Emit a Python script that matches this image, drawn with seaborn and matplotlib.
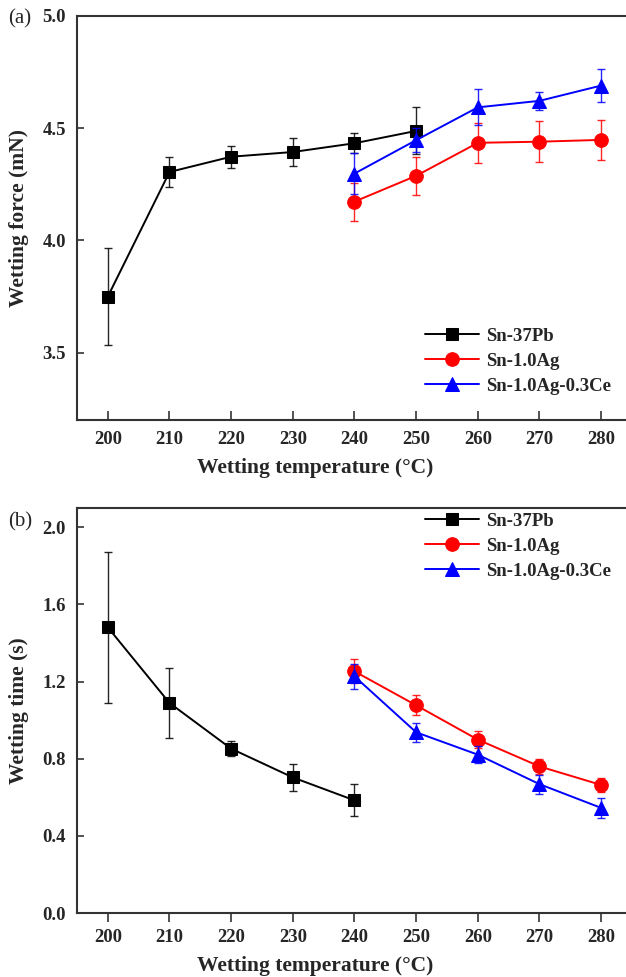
import matplotlib
matplotlib.use("Agg")
import matplotlib.pyplot as plt
import seaborn as sns
import numpy as np
import pandas as pd

# Wetting balance results for three solder alloys
alloys = ["Sn-37Pb", "Sn-1.0Ag", "Sn-1.0Ag-0.3Ce"]
colors = ["#000000", "#ff0000", "#0000ff"]
markers = ["s", "o", "^"]

temp_pb = [200, 210, 220, 230, 240, 250]
temp_ag = [240, 250, 260, 270, 280]
temp_ce = [240, 250, 260, 270, 280]

# (a) wetting force, mN
force_pb = [3.75, 4.305, 4.373, 4.394, 4.433, 4.488]
force_pb_err = [0.215, 0.065, 0.05, 0.063, 0.045, 0.105]
force_ag = [4.173, 4.288, 4.435, 4.440, 4.448]
force_ag_err = [0.085, 0.085, 0.09, 0.09, 0.09]
force_ce = [4.298, 4.447, 4.593, 4.622, 4.690]
force_ce_err = [0.09, 0.055, 0.08, 0.04, 0.075]

# (b) wetting time, s
time_pb = [1.481, 1.089, 0.852, 0.703, 0.584]
time_pb_err = [0.39, 0.18, 0.04, 0.07, 0.083]
time_ag = [1.253, 1.077, 0.899, 0.760, 0.664]
time_ag_err = [0.062, 0.052, 0.045, 0.04, 0.036]
time_ce = [1.227, 0.937, 0.821, 0.668, 0.545]
time_ce_err = [0.065, 0.05, 0.043, 0.05, 0.05]

x_ticks = [200, 210, 220, 230, 240, 250, 260, 270, 280]
force_ticks = [3.5, 4.0, 4.5, 5.0]
time_ticks = [0.0, 0.4, 0.8, 1.2, 1.6, 2.0]

sns.set_style("ticks")
plt.rcParams["font.family"] = ["Liberation Serif", "DejaVu Serif"]
plt.rcParams["font.weight"] = "bold"
plt.rcParams["axes.labelweight"] = "bold"

fig = plt.figure(figsize=(6.26, 9.77), dpi=100)
W, H = 626.0, 977.0
left_px, right_px = 77.0, 632.0
ax_a = fig.add_axes([left_px / W, 1 - 420 / H, (right_px - left_px) / W, (420 - 16) / H])
ax_b = fig.add_axes([left_px / W, 1 - 913 / H, (right_px - left_px) / W, (913 - 508) / H])

series_a = [(temp_pb, force_pb, force_pb_err), (temp_ag, force_ag, force_ag_err),
            (temp_ce, force_ce, force_ce_err)]
series_b = [(temp_pb[:5], time_pb, time_pb_err), (temp_ag, time_ag, time_ag_err),
            (temp_ce, time_ce, time_ce_err)]

msizes = [8.8, 9.8, 10.5]


def draw_panel(ax, series, ylabel, ylim, yticks, yfmt, xdir, xpad, xlab_y):
    for i, (name, col, mk) in enumerate(zip(alloys, colors, markers)):
        xs, ys, es = series[i]
        df = pd.DataFrame({"temp": xs, "val": ys})
        ax.errorbar(xs, ys, yerr=es, fmt="none", ecolor=col, elinewidth=1.0,
                    capsize=3.2, capthick=1.0, alpha=0.85, zorder=2 + i)
        sns.lineplot(data=df, x="temp", y="val", ax=ax, color=col, marker=mk,
                     markersize=msizes[i], markeredgecolor=col, linewidth=1.4,
                     label=name, zorder=3 + i)
    ax.set_xlim(195, 285)
    ax.set_ylim(*ylim)
    ax.set_xticks(x_ticks)
    ax.set_yticks(yticks)
    ax.set_yticklabels([yfmt.format(v) for v in yticks])
    ax.tick_params(axis="both", length=5, width=1.2, labelsize=13.5, color="#333333")
    ax.tick_params(axis="x", direction=xdir, pad=xpad, length=6.5)
    ax.tick_params(axis="y", direction="in", pad=8)
    for lab in ax.get_xticklabels() + ax.get_yticklabels():
        lab.set_fontweight("bold")
    for sp in ax.spines.values():
        sp.set_linewidth(1.5)
        sp.set_color("#333333")
    ax.set_xlabel("Wetting temperature (°C)", fontsize=15.5, fontweight="bold")
    ax.set_ylabel(ylabel, fontsize=15.5, fontweight="bold")
    ax.xaxis.set_label_coords(0.43, xlab_y)
    ax.yaxis.label.set_va("center")
    ax.yaxis.set_label_coords(-0.104, 0.5)


draw_panel(ax_a, series_a, "Wetting force (mN)", (3.2, 5.0), force_ticks, "{:.1f}",
           "in", 8, -0.095)
draw_panel(ax_b, series_b, "Wetting time (s)", (0.0, 2.1), time_ticks, "{:.1f}",
           "out", 5, -0.106)

leg_kw = dict(frameon=False, handlelength=2.9, handletextpad=0.35,
              labelspacing=0.42, borderpad=0, borderaxespad=0,
              prop={"weight": "bold", "size": 13.5})
ax_a.legend(loc="upper left", bbox_to_anchor=(0.627, 0.228), **leg_kw)
ax_b.legend(loc="upper left", bbox_to_anchor=(0.627, 0.988), **leg_kw)

fig.text(8 / W, 1 - 19 / H, "(a)", fontsize=15, fontweight="normal", va="center", ha="left")
fig.text(8 / W, 1 - 522 / H, "(b)", fontsize=15, fontweight="normal", va="center", ha="left")

fig.savefig("out.png", dpi=100)
